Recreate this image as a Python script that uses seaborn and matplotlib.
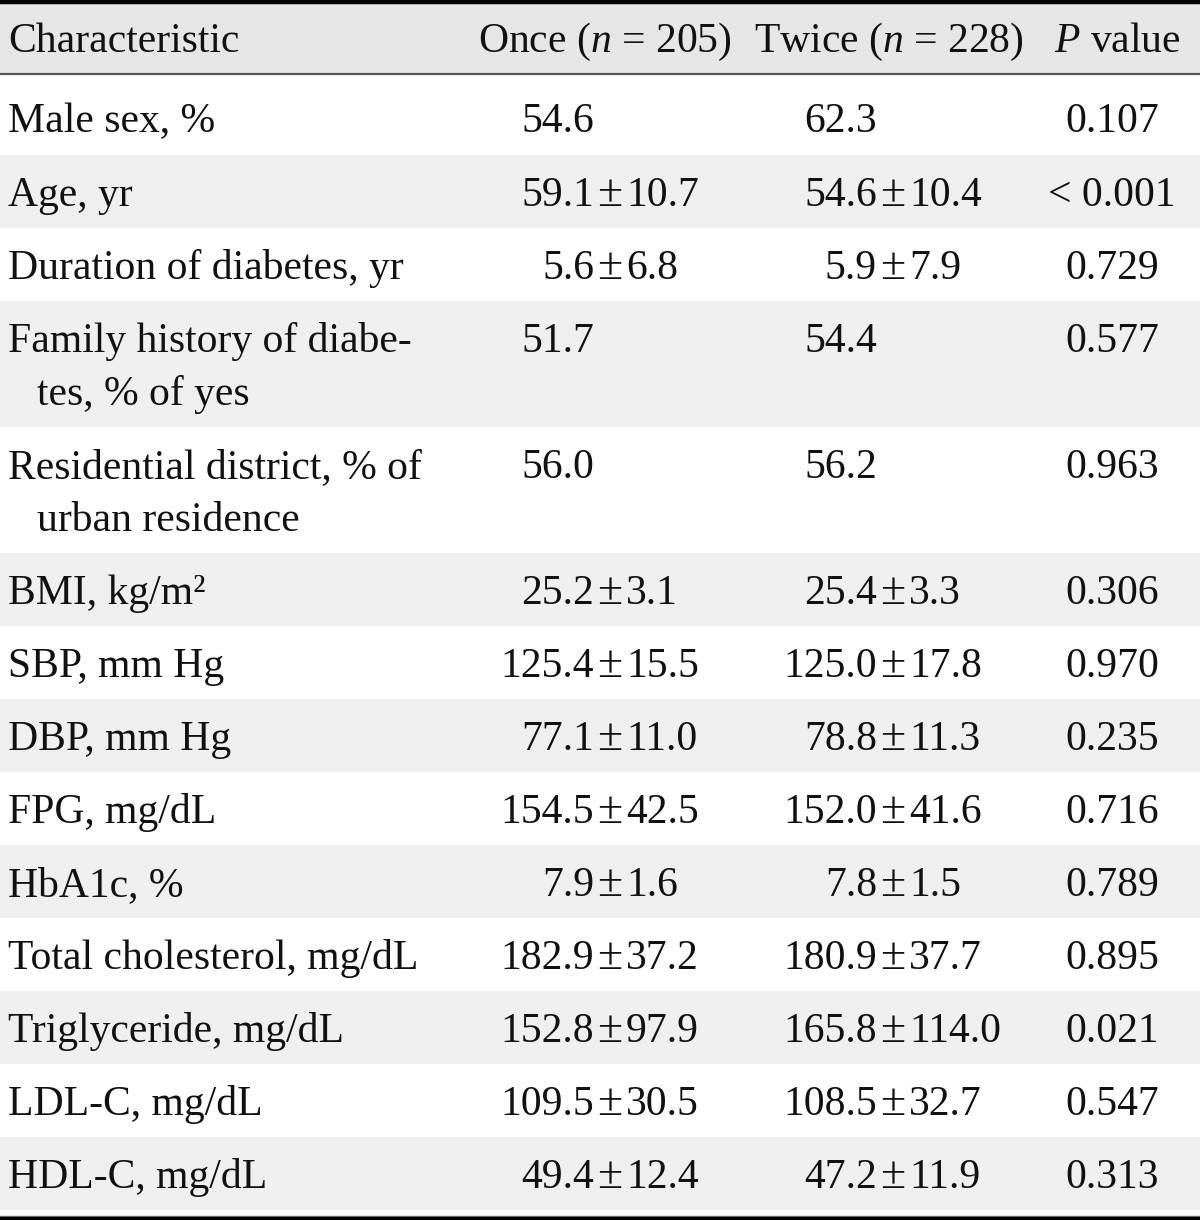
import matplotlib
matplotlib.use("Agg")
import matplotlib.pyplot as plt
import seaborn as sns

# ---------------- data ----------------
characteristics = [
    "Male sex, %",
    "Age, yr",
    "Duration of diabetes, yr",
    "Family history of diabe-\ntes, % of yes",
    "Residential district, % of\nurban residence",
    "BMI, kg/m²",
    "SBP, mm Hg",
    "DBP, mm Hg",
    "FPG, mg/dL",
    "HbA1c, %",
    "Total cholesterol, mg/dL",
    "Triglyceride, mg/dL",
    "LDL-C, mg/dL",
    "HDL-C, mg/dL",
]
once_mean = ["54.6", "59.1", "5.6", "51.7", "56.0", "25.2", "125.4", "77.1",
             "154.5", "7.9", "182.9", "152.8", "109.5", "49.4"]
once_sd = [None, "10.7", "6.8", None, None, "3.1", "15.5", "11.0",
           "42.5", "1.6", "37.2", "97.9", "30.5", "12.4"]
twice_mean = ["62.3", "54.6", "5.9", "54.4", "56.2", "25.4", "125.0", "78.8",
              "152.0", "7.8", "180.9", "165.8", "108.5", "47.2"]
twice_sd = [None, "10.4", "7.9", None, None, "3.3", "17.8", "11.3",
            "41.6", "1.5", "37.7", "114.0", "32.7", "11.9"]
p_values = ["0.107", "< 0.001", "0.729", "0.577", "0.963", "0.306", "0.970",
            "0.235", "0.716", "0.789", "0.895", "0.021", "0.547", "0.313"]
header = ["Characteristic", "Once ($n$ = 205)", "Twice ($n$ = 228)", "$P$ value"]

# ---------------- style ----------------
sns.set_theme(style="white")
plt.rcParams["font.family"] = ["Liberation Serif", "DejaVu Serif"]
plt.rcParams["mathtext.fontset"] = "custom"
plt.rcParams["mathtext.rm"] = "Liberation Serif"
plt.rcParams["mathtext.it"] = "Liberation Serif:italic"

FS = 30
W, H = 1200, 1220
fig = plt.figure(figsize=(W / 100, H / 100), dpi=100)
ax = fig.add_axes([0, 0, 1, 1])
ax.set_xlim(0, W)
ax.set_ylim(H, 0)
ax.axis("off")

HEAD_BG = "#e6e6e6"
STRIPE = "#efefef"
TXT = "#111111"

# header
ax.axhspan(2, 74, color=HEAD_BG, lw=0)
ax.axhline(1.5, color="black", lw=3.2)
ax.axhline(74, color="#555555", lw=1.6)

hx = [8, 478, 754, 1054]
for x, t in zip(hx, header):
    ax.text(x, 52, t, fontsize=FS, ha="left", va="baseline", color=TXT)

# rows
x_label, x_indent = 8, 37
once_pm, twice_pm = 610, 893
p_center = 1112
gap = 16

top = 75
for i, label in enumerate(characteristics):
    lines = label.split("\n")
    h = (80 if i == 0 else 73) + 53 * (len(lines) - 1)
    if i % 2 == 1:
        ax.axhspan(top, top + h, color=STRIPE, lw=0, zorder=0)
    base = top + (57 if i == 0 else 51)
    for k, ln in enumerate(lines):
        ax.text(x_label if k == 0 else x_indent, base + 53 * k, ln, fontsize=FS,
                ha="left", va="baseline", color=TXT)
    for pm, m, sd in ((once_pm, once_mean[i], once_sd[i]),
                      (twice_pm, twice_mean[i], twice_sd[i])):
        ax.text(pm - gap, base, m, fontsize=FS, ha="right", va="baseline",
                color=TXT)
        if sd is not None:
            ax.text(pm, base, "±", fontsize=FS + 3, ha="center", va="baseline",
                    color=TXT)
            ax.text(pm + gap, base, sd, fontsize=FS, ha="left", va="baseline",
                    color=TXT)
    ax.text(p_center, base, p_values[i], fontsize=FS, ha="center",
            va="baseline", color=TXT)
    top += h

ax.axhline(H - 4.5, color="#888888", lw=1)
ax.axhline(H - 1.5, color="black", lw=3.2)

fig.savefig("out.png", dpi=100)
